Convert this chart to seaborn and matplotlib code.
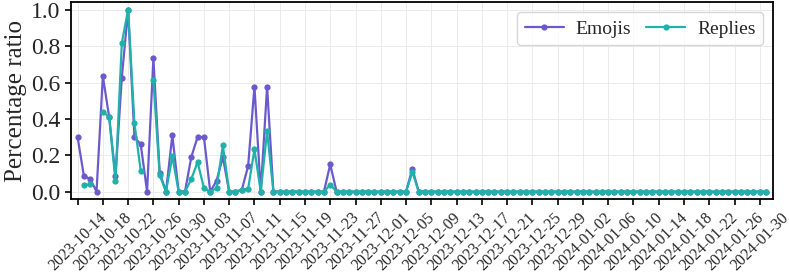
import numpy as np
import pandas as pd
import matplotlib
matplotlib.use("Agg")
import matplotlib.pyplot as plt
import matplotlib.dates as mdates
import seaborn as sns

nan = np.nan
dates = pd.date_range("2023-10-14", "2024-01-31", freq="D")

emojis = [
    0.30, 0.086, 0.07, 0.0, 0.635, 0.41, 0.086, 0.626, 1.0, 0.30,
    0.26, 0.0, 0.734, 0.104, 0.0, 0.31, 0.0, 0.0, 0.19, 0.30,
    0.30, 0.0, 0.06, 0.19, 0.0, 0.0, 0.01, 0.14, 0.577, 0.0,
    0.577, 0.0, 0.0, 0.0, 0.0, 0.0, 0.0, 0.0, 0.0, 0.0,
    0.15, 0.0, 0.0, 0.0, 0.0, 0.0, 0.0, 0.0, 0.0, 0.0,
    0.0, 0.0, 0.0, 0.126, 0.0, 0.0, 0.0, 0.0, 0.0, 0.0,
    0.0, 0.0, 0.0, 0.0, 0.0, 0.0, 0.0, 0.0, 0.0, 0.0,
    0.0, 0.0, 0.0, 0.0, 0.0, 0.0, 0.0, 0.0, 0.0, 0.0,
    0.0, 0.0, 0.0, 0.0, 0.0, 0.0, 0.0, 0.0, 0.0, 0.0,
    0.0, 0.0, 0.0, 0.0, 0.0, 0.0, 0.0, 0.0, 0.0, 0.0,
    0.0, 0.0, 0.0, 0.0, 0.0, 0.0, 0.0, 0.0, 0.0, 0.0,
]
replies = [
    nan, 0.035, 0.04, nan, 0.44, 0.41, 0.06, 0.816, 1.0, 0.377,
    0.113, nan, 0.615, 0.09, 0.0, 0.194, 0.0, 0.0, 0.068, 0.163,
    0.02, 0.0, 0.02, 0.254, 0.0, 0.0, 0.01, 0.016, 0.232, 0.0,
    0.333, 0.0, 0.0, 0.0, 0.0, 0.0, 0.0, 0.0, 0.0, 0.0,
    0.038, 0.0, 0.0, 0.0, 0.0, 0.0, 0.0, 0.0, 0.0, 0.0,
    0.0, 0.0, 0.0, 0.108, 0.0, 0.0, 0.0, 0.0, 0.0, 0.0,
    0.0, 0.0, 0.0, 0.0, 0.0, 0.0, 0.0, 0.0, 0.0, 0.0,
    0.0, 0.0, 0.0, 0.0, 0.0, 0.0, 0.0, 0.0, 0.0, 0.0,
    0.0, 0.0, 0.0, 0.0, 0.0, 0.0, 0.0, 0.0, 0.0, 0.0,
    0.0, 0.0, 0.0, 0.0, 0.0, 0.0, 0.0, 0.0, 0.0, 0.0,
    0.0, 0.0, 0.0, 0.0, 0.0, 0.0, 0.0, 0.0, 0.0, 0.0,
]
series_names = ["Emojis", "Replies"]
colors = ["#6a5acd", "#20b2aa"]
tick_dates = pd.date_range("2023-10-14", "2024-01-30", freq="4D")

# Build long-form table; missing days split a series into separate segments
frames = []
for name, vals in zip(series_names, [emojis, replies]):
    s = pd.Series(vals, dtype=float)
    seg = s.isna().cumsum()
    frames.append(pd.DataFrame({"date": dates, "ratio": s, "series": name,
                                "segment": seg}))
long = pd.concat(frames, ignore_index=True).dropna(subset=["ratio"])

sns.set_style("whitegrid", {
    "axes.edgecolor": "black",
    "grid.color": "#ebebeb",
    "xtick.bottom": True,
    "ytick.left": True,
})
plt.rcParams["font.family"] = ["Liberation Serif", "DejaVu Serif"]
plt.rcParams["xtick.direction"] = "out"
plt.rcParams["ytick.direction"] = "out"

fig = plt.figure(figsize=(7.89, 2.74), dpi=100)
ax = fig.add_axes([0.0896, 0.274, 0.8901, 0.717])

sns.lineplot(data=long, x="date", y="ratio", hue="series",
             hue_order=series_names, palette=colors,
             units="segment", estimator=None,
             marker="o", markersize=4.5, markeredgewidth=0,
             linewidth=1.6, ax=ax)

ax.margins(x=0.01, y=0.04)
ax.set_xticks(tick_dates)
ax.xaxis.set_major_formatter(mdates.DateFormatter("%Y-%m-%d"))
ax.tick_params(axis="x", labelsize=11.5, rotation=45, length=4, width=1.2, color="black")
ax.tick_params(axis="y", labelsize=17, length=4, width=1.2, color="black")
ax.set_yticks([0.0, 0.2, 0.4, 0.6, 0.8, 1.0])
ax.set_xlabel("")
ax.set_ylabel("Percentage ratio", fontsize=18, labelpad=3)
for s in ax.spines.values():
    s.set_linewidth(1.3)
    s.set_color("black")
ax.grid(True, linewidth=0.7)

handles, labels = ax.get_legend_handles_labels()
leg = ax.legend(handles[:2], labels[:2], loc="upper right", ncol=2, fontsize=14,
                frameon=True, edgecolor="#cccccc", fancybox=True, handlelength=2.0,
                columnspacing=0.8, handletextpad=0.6)
leg.get_frame().set_linewidth(1.0)

fig.savefig("out.png", dpi=100)
